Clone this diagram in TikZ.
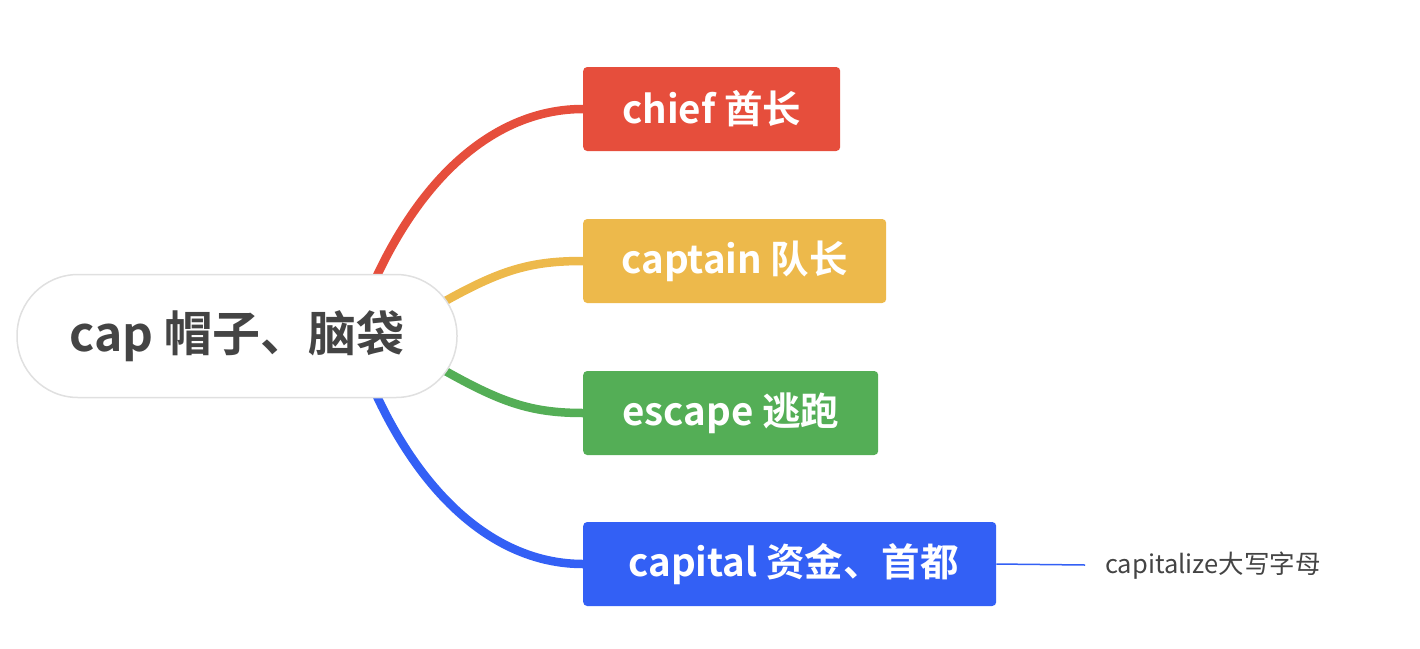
\documentclass[tikz,border=0pt]{standalone}
\usepackage{fontspec}
\setmainfont{Noto Sans CJK SC}
\newfontfamily\cjkb{Noto Sans CJK SC Bold}
\definecolor{cred}{HTML}{E64E3C}
\definecolor{cyel}{HTML}{EDB94B}
\definecolor{cgrn}{HTML}{54AE56}
\definecolor{cblu}{HTML}{3360F5}
\definecolor{ctxt}{HTML}{444444}
\begin{document}
\begin{tikzpicture}[x=1pt,y=-1pt,
  child/.style={rectangle,rounded corners=4pt,minimum height=84pt,text=white,font=\cjkb\fontsize{38.5}{44}\selectfont,inner sep=0pt,anchor=west},
  branch/.style={line width=8.5pt,line cap=round}]
\useasboundingbox (0,0) rectangle (1420,648);
\node[child,fill=cred,minimum width=257pt] (n1) at (583,109) {chief 酋长};
\node[child,fill=cyel,minimum width=303pt] (n2) at (583,261) {captain 队长};
\node[child,fill=cgrn,minimum width=295pt] (n3) at (583,413) {escape 逃跑};
\node[child,fill=cblu,minimum width=413pt] (n4) at (583,564) {\hspace*{8pt}capital 资金、首都};
\node[font=\fontsize{25.5}{30}\selectfont,text=ctxt,anchor=west,inner sep=0pt] (n5) at (1105,566) {capitalize大写字母};
\coordinate (s1) at (374,282);
\coordinate (s2) at (440,304);
\coordinate (s3) at (440,368);
\coordinate (s4) at (374,390);
\coordinate (e5) at (1085,565);
\draw[branch,cred] (s1) .. controls (425,170) and (500,109) .. (n1.west);
\draw[branch,cyel] (s2) .. controls (500,270) and (530,261) .. (n2.west);
\draw[branch,cgrn] (s3) .. controls (500,402) and (530,413) .. (n3.west);
\draw[branch,cblu] (s4) .. controls (425,502) and (500,564) .. (n4.west);
\node[draw=black!12,line width=1.5pt,fill=white,rounded corners=61pt,minimum width=440pt,minimum height=123pt,inner sep=0pt,font=\cjkb\fontsize{48}{54}\selectfont,text=ctxt] (c) at (237,336) {cap 帽子、脑袋};
\draw[cblu,line width=1.5pt] (n4.east) -- (e5);
\end{tikzpicture}
\end{document}
